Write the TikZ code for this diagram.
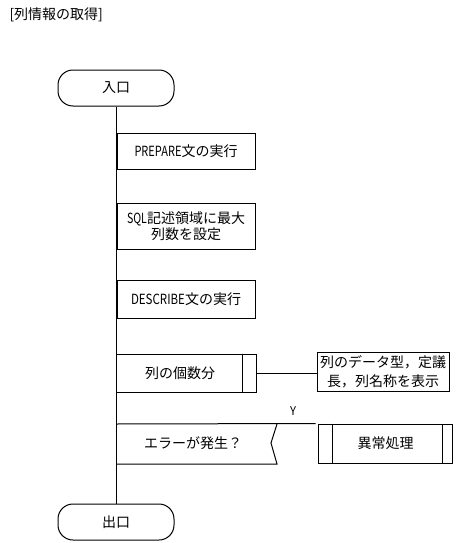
\documentclass[tikz,border=0pt]{standalone}
\usepackage{fontspec}
\setmainfont{Noto Sans CJK JP}
\usepackage{graphicx}
\newcommand\nw[2]{\resizebox{#1}{\height}{#2}}
\begin{document}
\begin{tikzpicture}[x=1pt,y=-1pt,line width=1pt,
  every node/.style={font=\fontsize{14}{17}\selectfont,inner sep=0pt},
  term/.style={draw,rounded corners=15pt,minimum width=116pt,minimum height=36pt},
  procbox/.style={draw,minimum width=138pt},
  txt/.style={draw=none}]
\useasboundingbox (0,0) rectangle (459,543);
\node[txt,anchor=west] (title) at (9,15) {[列情報の取得]};
\node[term] (entry) at (116,88) {入口};
\node[term] (exit) at (116,522) {出口};
\node[procbox,minimum height=36pt] (prep) at (186,151) {\nw{47pt}{PREPARE}文の実行};
\node[procbox,minimum height=46pt,align=center,font=\fontsize{14}{16}\selectfont] (sql) at (186,226) {\nw{20pt}{SQL}記述領域に最大\\列数を設定};
\node[procbox,minimum height=38pt] (desc) at (186,299) {\nw{54pt}{DESCRIBE}文の実行};
\node[draw,minimum width=140pt,minimum height=38pt] (loop) at (186,373) {};
\node[txt] (looptxt) at (180,373) {列の個数分};
\draw ([xshift=-14pt]loop.north east) -- ([xshift=-14pt]loop.south east);
\node[draw,minimum width=132pt,minimum height=39pt,align=center,font=\fontsize{14}{19}\selectfont] (disp) at (383,371.5) {列のデータ型，定議\\長，列名称を表示};
\draw (loop.east) -- (loop.east -| disp.west);
\node[draw,minimum width=134pt,minimum height=39pt] (exc) at (385,443.5) {};
\node[txt] (exctxt) at (385.5,443.5) {異常処理};
\draw ([xshift=15pt]exc.north west) -- ([xshift=15pt]exc.south west);
\draw ([xshift=-10pt]exc.north east) -- ([xshift=-10pt]exc.south east);
\coordinate (dtl) at (116,424);
\coordinate (dz1) at (277,424);
\coordinate (dz2) at (271,443);
\coordinate (dz3) at (277,464);
\coordinate (dbl) at (116,464);
\draw (dtl) -- ([xshift=-2pt]exc.north west);
\draw (dbl) -- (dz3) -- (dz2) -- (dz1);
\node[txt] (dectxt) at (193,443) {エラーが発生？};
\node[txt,font=\fontsize{12}{14}\selectfont] (ylab) at (293,411) {\nw{6pt}{Y}};
\draw (entry.south) -- (exit.north);
\end{tikzpicture}
\end{document}
